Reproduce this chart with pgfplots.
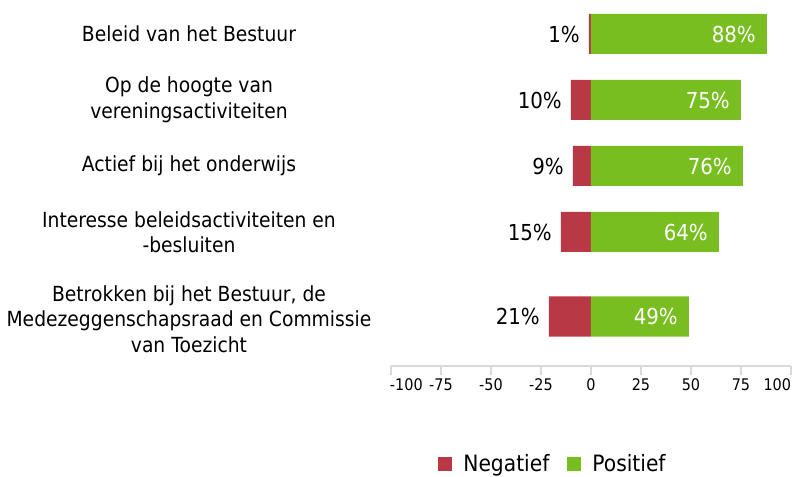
\documentclass[border=0pt]{standalone}
\usepackage{fontspec}
\setmainfont{DejaVu Sans}[FakeStretch=0.9]
\usepackage{pgfplots}
\pgfplotsset{compat=1.18}
\definecolor{negred}{RGB}{184,57,69}
\definecolor{posgreen}{RGB}{120,190,32}
\definecolor{axgray}{RGB}{217,217,217}
\begin{document}
\begin{tikzpicture}
\begin{axis}[
  scale only axis, width=400bp, height=366bp,
  xmin=-100, xmax=100, ymin=0, ymax=366,
  enlargelimits=false, clip=false,
  xbar, bar width=40bp, bar shift=0pt,
  axis x line*=bottom, axis y line*=left,
  x axis line style={-, draw=axgray, line width=1.5bp},
  y axis line style={draw=none},
  xtick={-100,-75,...,100},
  xticklabels={{\makebox[0pt][l]{\hspace{-1bp}-100}},-75,-50,-25,0,25,50,75,{\makebox[0pt][r]{100}}},
  tick align=outside, major tick length=9bp,
  x tick style={draw=axgray, line width=1.5bp},
  ytick style={draw=none},
  ytick={332,266,200,134,47},
  yticklabels={Beleid van het Bestuur, {Op de hoogte van\\vereningsactiviteiten}, Actief bij het onderwijs, {Interesse beleidsactiviteiten en\\-besluiten}, {Betrokken bij het Bestuur, de\\Medezeggenschapsraad en Commissie\\van Toezicht}},
  yticklabel style={anchor=center, xshift=-193bp, align=center, font=\fontsize{20.8bp}{25.5bp}\selectfont},
  xticklabel style={font=\fontsize{16bp}{19bp}\selectfont, text=black},
  point meta=explicit symbolic,
  legend image code/.code={\fill[#1] (0bp,-7bp) rectangle (14bp,7bp);},
  legend style={draw=none, fill=none, at={(0.4025,-0.2664)}, anchor=center,
    legend columns=2,
    /tikz/every odd column/.append style={column sep=11bp},
    /tikz/every even column/.append style={column sep=18bp},
    nodes={inner sep=0pt, anchor=west, font=\fontsize{22.5bp}{27bp}\selectfont}},
]
\addplot[fill=negred, draw=none, nodes near coords,
  every node near coord/.append style={anchor=east, xshift=-9bp, inner sep=0pt, text=black, font=\fontsize{22bp}{26bp}\selectfont}]
  coordinates {(-1,332) [1\%] (-10,266) [10\%] (-9,200) [9\%] (-15,134) [15\%] (-21,49.5) [21\%]};
\addplot[fill=posgreen, draw=none, nodes near coords,
  every node near coord/.append style={anchor=east, xshift=-11bp, inner sep=0pt, text=white, font=\fontsize{22bp}{26bp}\selectfont}]
  coordinates {(88,332) [88\%] (75,266) [75\%] (76,200) [76\%] (64,134) [64\%] (49,49.5) [49\%]};
\legend{Negatief, Positief}
\end{axis}
\path[use as bounding box] ([xshift=-391bp,yshift=-111bp]current axis.south west) rectangle ([xshift=6bp]current axis.north east);
\end{tikzpicture}
\end{document}
